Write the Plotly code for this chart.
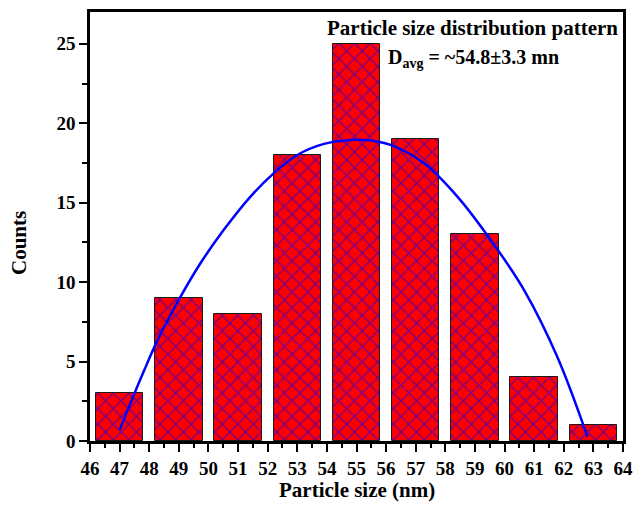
import plotly.graph_objects as go

sizes = [47, 49, 51, 53, 55, 57, 59, 61, 63]
counts = [3, 9, 8, 18, 25, 19, 13, 4, 1]

fit_x = [47.0, 47.37, 47.82, 48.27, 49.03, 49.73, 50.52, 51.42, 52.21, 53.0, 53.9, 54.8,
         55.4, 56.15, 57.28, 58.4, 59.53, 60.66, 61.78, 62.8]
fit_y = [0.7, 2.4, 4.4, 6.3, 8.99, 11.19, 13.29, 15.38, 16.86, 18.0, 18.7, 18.95,
         18.93, 18.64, 17.48, 15.4, 12.66, 9.5, 5.3, 0.27]

x_ticks = list(range(46, 65))
y_ticks = [0, 5, 10, 15, 20, 25]

FONT = "Liberation Serif"

fig = go.Figure()
fig.add_trace(go.Bar(
    x=sizes, y=counts, width=1.6,
    marker=dict(
        color="#FF0000",
        line=dict(color="#1a1a1a", width=1),
        pattern=dict(shape="x", fgcolor="#0000FF", bgcolor="#FF0000",
                     size=11, solidity=0.25, fillmode="overlay"),
    ),
    showlegend=False,
))
fig.add_trace(go.Scatter(
    x=fit_x, y=fit_y, mode="lines",
    line=dict(color="#0000FF", width=2.5, shape="spline", smoothing=1.0),
    showlegend=False,
))

axis_font = dict(family=FONT, size=19, color="black", weight="bold")
fig.update_layout(
    width=634, height=513,
    margin=dict(l=90, r=11, t=12, b=72),
    paper_bgcolor="white", plot_bgcolor="white",
    bargap=0,
    xaxis=dict(
        range=[46, 64], tickvals=x_ticks, ticktext=[str(v) for v in x_ticks],
        ticks="outside", ticklen=8, tickwidth=2, tickcolor="black",
        minor=dict(dtick=0.5, tick0=46, ticks="outside", ticklen=4, tickwidth=2, tickcolor="black"),
        showline=True, linecolor="black", linewidth=2.5, mirror=True,
        showgrid=False, zeroline=False, tickfont=axis_font, automargin=False,
    ),
    yaxis=dict(
        range=[0, 27], tickvals=y_ticks,
        ticks="outside", ticklen=8, tickwidth=2, tickcolor="black",
        minor=dict(dtick=2.5, tick0=0, ticks="outside", ticklen=5, tickwidth=2, tickcolor="black"),
        showline=True, linecolor="black", linewidth=2.5, mirror=True,
        showgrid=False, zeroline=False, tickfont=axis_font, automargin=False,
    ),
    annotations=[
        dict(text="Particle size (nm)", xref="paper", yref="paper", x=0.5, y=0,
             yshift=-49, yanchor="middle", showarrow=False,
             font=dict(family=FONT, size=21, color="black", weight="bold")),
        dict(text="Counts", xref="paper", yref="paper", x=0, y=0.4615,
             xshift=-71, textangle=-90, xanchor="center", yanchor="middle", showarrow=False,
             font=dict(family=FONT, size=21, color="black", weight="bold")),
        dict(text="Particle size distribution pattern", xref="x", yref="y", x=63.9, y=26.0,
             xanchor="right", yanchor="middle", showarrow=False,
             font=dict(family=FONT, size=21, color="black", weight="bold")),
        dict(text="D<sub>avg</sub> = ~54.8\u00b13.3 mn", xref="x", yref="y", x=56.0, y=24.1,
             xanchor="left", yanchor="middle", showarrow=False,
             font=dict(family=FONT, size=20, color="black", weight="bold")),
    ],
)

fig.write_html("out.html", config={"displayModeBar": False},
               post_script="document.body.style.margin='0px';document.body.style.overflow='hidden';")
